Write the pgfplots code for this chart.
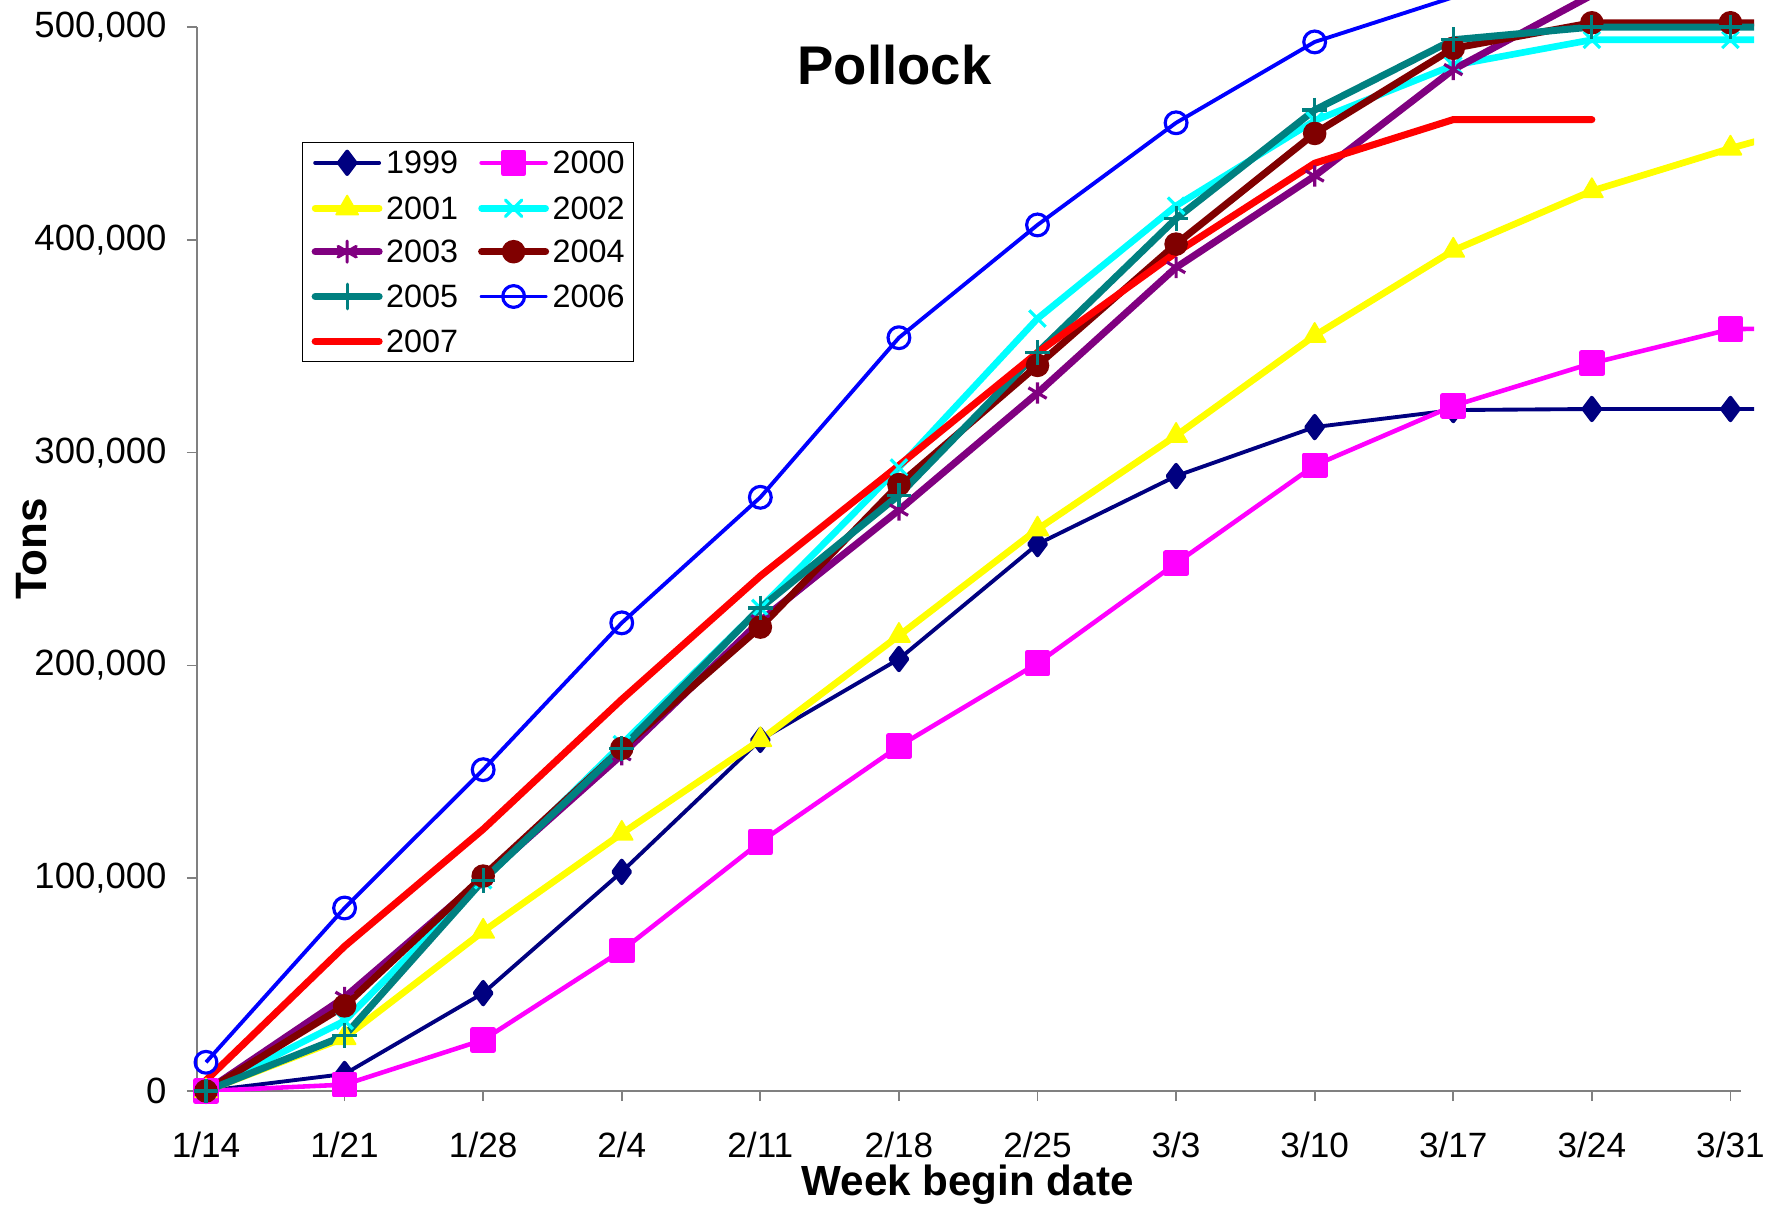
\documentclass[border=0pt]{standalone}
\usepackage{fontspec}
\setmainfont{Liberation Sans}
\usepackage{pgfplots}
\pgfplotsset{compat=1.18}
\definecolor{cA}{HTML}{000080}
\definecolor{cB}{HTML}{FF00FF}
\definecolor{cC}{HTML}{FFFF00}
\definecolor{cD}{HTML}{00FFFF}
\definecolor{cE}{HTML}{800080}
\definecolor{cF}{HTML}{800000}
\definecolor{cG}{HTML}{008080}
\definecolor{cH}{HTML}{0000FF}
\definecolor{cI}{HTML}{FF0000}
\definecolor{axgray}{HTML}{808080}
\begin{document}
\begin{tikzpicture}
\path[use as bounding box] (-1.97,-1.18) rectangle (15.72,10.91);
\begin{axis}[
  at={(0,0)}, anchor=south west,
  scale only axis, width=15.57cm, height=10.91cm,
  xmin=-0.065, xmax=11.17, ymin=0, ymax=512700,
  axis x line*=bottom, axis y line*=left,
  axis line style={draw=axgray, line width=0.5pt},
  x axis line style={shorten >=0.13cm},
  y axis line style={shorten >=0.27cm},
  tick style={draw=axgray, line width=0.5pt},
  tick align=outside, major tick length=0.1cm,
  xtick={0,...,11},
  xticklabels={1/14,1/21,1/28,2/4,2/11,2/18,2/25,3/3,3/10,3/17,3/24,3/31},
  ytick={0,100000,200000,300000,400000,500000},
  scaled y ticks=false,
  /pgf/number format/.cd, fixed, precision=0, 1000 sep={,}, assume math mode=true,
  /pgfplots/.cd,
  xticklabel style={font=\fontsize{10}{12}\selectfont, text=black, yshift=-0.19cm},
  yticklabel style={font=\fontsize{10.4}{12}\selectfont, text=black, xshift=-0.08cm},
  xlabel={Week begin date},
  ylabel={Tons},
  every axis x label/.style={at={(axis description cs:0.495,-0.0862)}, anchor=center, font=\fontsize{12}{14}\selectfont\bfseries},
  every axis y label/.style={at={(axis description cs:-0.106,0.497)}, anchor=center, rotate=90, font=\fontsize{12.5}{14}\selectfont\bfseries},
  title={Pollock},
  every axis title/.style={at={(axis description cs:0.448,0.940)}, anchor=center, font=\fontsize{15.5}{18}\selectfont\bfseries},
  legend columns=2,
  legend cell align=left,
  legend image code/.code={\draw[mark repeat=2,mark phase=2,line cap=round,#1] plot coordinates {(0cm,0cm) (0.32cm,0cm) (0.64cm,0cm)};},
  legend style={at={(axis description cs:0.0674,0.870)}, anchor=north west,
    draw=black, fill=white, font=\fontsize{9.2}{10}\selectfont,
    inner xsep=0.09cm, inner ysep=0.09cm, row sep=0.215cm,
    nodes={inner sep=0pt, text height=0.22cm, text depth=0pt, anchor=west},
    /tikz/every odd column/.append style={column sep=0.035cm},
    /tikz/every even column/.append style={column sep=0.2cm}},
  every axis plot/.append style={line join=round},
]
\addplot[cA, line width=1.1pt, mark=diamond*, mark size=3.2pt, mark options={solid, fill=cA}] coordinates {
(0,0)(1,8000)(2,46000)(3,103000)(4,165000)(5,203000)(6,257000)(7,289000)(8,312000)(9,320000)(10,320500)(11,320500)(12,320500)};
\addlegendentry{1999}
\addplot[cB, line width=1.3pt, mark=square*, mark size=3pt, mark options={solid, fill=cB}] coordinates {
(0,0)(1,3000)(2,24000)(3,66000)(4,117000)(5,162000)(6,201000)(7,248000)(8,294000)(9,322000)(10,342000)(11,358000)(12,359000)};
\addlegendentry{2000}
\addplot[cC, line width=1.9pt, mark=triangle*, mark size=3.6pt, mark options={solid, fill=cC, line width=0.5pt}] coordinates {
(0,0)(1,25000)(2,75000)(3,121000)(4,165000)(5,214000)(6,264000)(7,308000)(8,355000)(9,395000)(10,423000)(11,443000)(12,461000)};
\addlegendentry{2001}
\addplot[cD, line width=1.9pt, mark=x, mark size=3.3pt, mark options={solid, line width=0.9pt}] coordinates {
(0,0)(1,33000)(2,99000)(3,163000)(4,227000)(5,293000)(6,363000)(7,416000)(8,456000)(9,482000)(10,494000)(11,494000)(12,494000)};
\addlegendentry{2002}
\addplot[cE, line width=2pt, mark=asterisk, mark size=3pt, mark options={solid, line width=0.9pt}] coordinates {
(0,0)(1,44000)(2,100000)(3,158000)(4,221000)(5,273000)(6,328000)(7,387000)(8,430000)(9,480000)(10,515000)(11,520000)(12,525000)};
\addlegendentry{2003}
\addplot[cF, line width=2pt, mark=*, mark size=3.1pt, mark options={solid, fill=cF, line width=0.5pt}] coordinates {
(0,0)(1,40000)(2,101000)(3,161000)(4,218000)(5,285000)(6,341000)(7,398000)(8,450000)(9,490000)(10,502000)(11,502000)(12,502000)};
\addlegendentry{2004}
\addplot[cG, line width=2pt, mark=+, mark size=3.5pt, mark options={solid, line width=0.9pt}] coordinates {
(0,0)(1,26000)(2,99000)(3,161000)(4,227000)(5,280000)(6,347000)(7,410000)(8,461000)(9,494000)(10,500000)(11,500000)(12,500000)};
\addlegendentry{2005}
\addplot[cH, line width=1.1pt, mark=o, mark size=3.1pt, mark options={solid, line width=0.9pt}] coordinates {
(0,13500)(1,86000)(2,151000)(3,220000)(4,279000)(5,354000)(6,407000)(7,455000)(8,493000)(9,514000)(10,525000)(11,530000)(12,535000)};
\addlegendentry{2006}
\addplot[cI, line width=2pt, no marks, line cap=round] coordinates {
(0,5000)(1,68000)(2,123000)(3,184000)(4,242000)(5,294000)(6,347000)(7,394000)(8,436000)(9,456500)(10,456500)};
\addlegendentry{2007}
\end{axis}
\end{tikzpicture}
\end{document}
